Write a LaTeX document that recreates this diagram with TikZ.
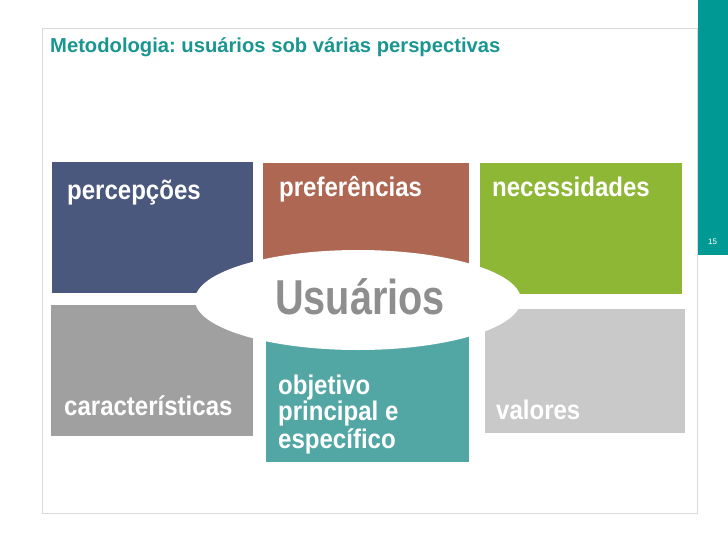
\documentclass[tikz,border=0pt]{standalone}
\usepackage{fontspec}
\setmainfont{Liberation Sans}
\newfontfamily\boxfont{Liberation Sans}[FakeStretch=0.89]
\newfontfamily\bigfont{Liberation Sans}[FakeStretch=0.81]
\usetikzlibrary{shapes.geometric}
\frenchspacing
\definecolor{cperc}{RGB}{74,88,126}
\definecolor{cpref}{RGB}{173,103,83}
\definecolor{cnec}{RGB}{141,183,53}
\definecolor{ccar}{RGB}{160,160,160}
\definecolor{cobj}{RGB}{82,167,165}
\definecolor{cval}{RGB}{201,201,201}
\definecolor{cusr}{RGB}{142,142,142}
\definecolor{ctitle}{RGB}{26,150,145}
\definecolor{cbar}{RGB}{0,153,148}
\definecolor{cframe}{RGB}{217,217,217}
\tikzset{
  boxshape/.style={rectangle, inner sep=0, outer sep=0, anchor=north west},
  boxlabel/.style={inner sep=0, anchor=base west, text=white, font=\boxfont\fontsize{27}{27}\selectfont\bfseries},
}
\begin{document}
\frenchspacing
\begin{tikzpicture}[x=1pt,y=-1pt]
\useasboundingbox (0,0) rectangle (728,546);
\fill[white] (0,0) rectangle (728,546);
% frame
\draw[cframe, line width=1pt] (42,28) rectangle (697,513);
% side bar
\node[rectangle, fill=cbar, inner sep=0, anchor=north west, minimum width=30, minimum height=255] (bar) at (698,0) {};
\node[inner sep=0, anchor=base, text=white, font=\fontsize{8}{8}\selectfont] (pg) at (712.5,244) {15};
% title
\node[inner sep=0, anchor=base west, text=ctitle, font=\fontsize{20.2}{20.2}\selectfont\bfseries] (title) at (50,52) {Metodologia: usuários sob várias perspectivas};
% boxes
\node[boxshape, fill=cperc, minimum width=201, minimum height=131] (perc) at (52,162) {};
\node[boxshape, fill=cpref, minimum width=206, minimum height=130] (pref) at (263,163) {};
\node[boxshape, fill=cnec, minimum width=202, minimum height=131] (nec) at (480,163) {};
\node[boxshape, fill=ccar, minimum width=202, minimum height=131] (car) at (51,305) {};
\node[boxshape, fill=cobj, minimum width=203, minimum height=132] (obj) at (266,330) {};
\node[boxshape, fill=cval, minimum width=200, minimum height=124] (val) at (485,309) {};
% central ellipse
\node[ellipse, fill=white, inner sep=0, minimum width=326, minimum height=100] (usr) at (358,300) {};
\node[inner sep=0, anchor=base, text=cusr, font=\bigfont\fontsize{49}{49}\selectfont\bfseries] (usrtext) at (360,314) {Usuários};
% labels
\node[boxlabel] (lperc) at (67,199) {percepções};
\node[boxlabel] (lpref) at (279,196) {preferências};
\node[boxlabel] (lnec) at (492,196) {necessidades};
\node[boxlabel] (lcar) at (64,415) {características};
\node[boxlabel, align=left] (lobj) at (278,448) {objetivo\\[-1pt]principal e\\[1pt]específico};
\node[boxlabel] (lval) at (496,419) {valores};
\end{tikzpicture}
\end{document}
